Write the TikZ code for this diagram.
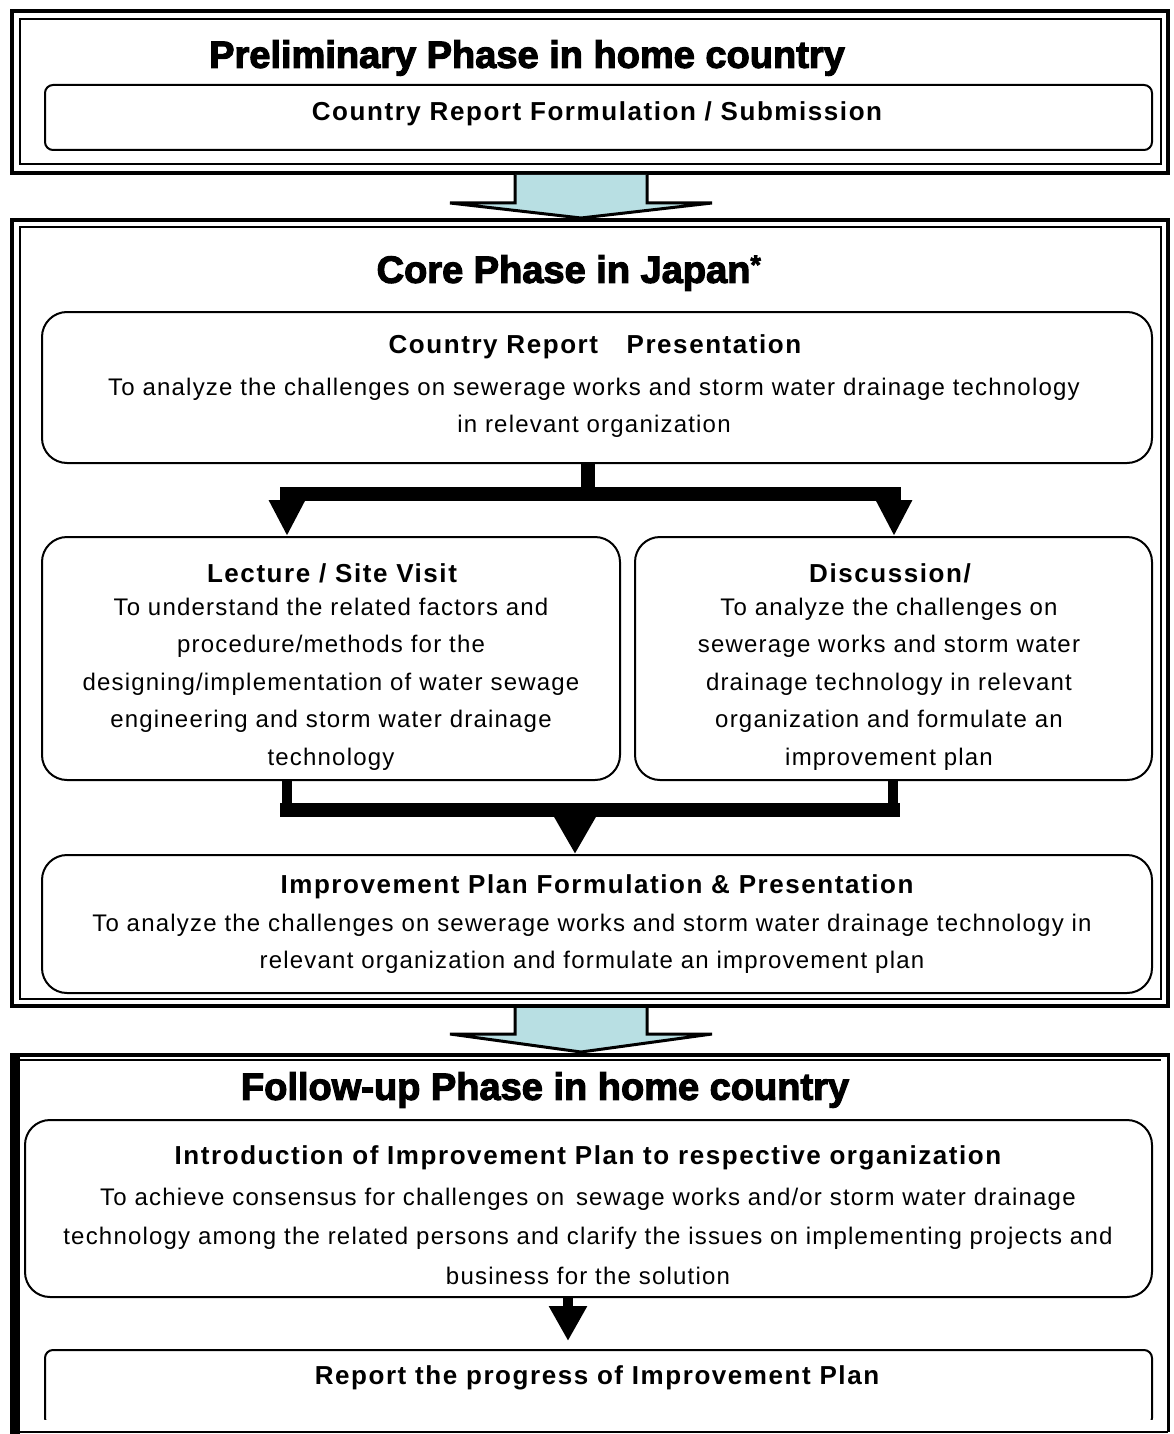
\documentclass[tikz,border=0pt]{standalone}
\usepackage{fontspec}
\setmainfont{Liberation Sans}
\newfontfamily\bodyfont[LetterSpace=5]{Liberation Sans}
\newfontfamily\headfont[LetterSpace=6]{Liberation Sans}
\newfontfamily\titlefont[FakeBold=3]{Liberation Sans}
\usetikzlibrary{arrows.meta}
\definecolor{arrowblue}{RGB}{184,223,227}
\tikzset{
  frameout/.style={draw=black, line width=4pt},
  framein/.style={draw=black, line width=2pt},
  bigbox/.style={draw=black, line width=2pt, rounded corners=25pt, inner sep=0pt},
  smallbox/.style={draw=black, line width=2pt, rounded corners=8pt, inner sep=0pt},
  titletext/.style={font=\titlefont\bfseries\fontsize{38}{44}\selectfont, inner sep=0pt},
  headtext/.style={font=\headfont\bfseries\fontsize{26}{30}\selectfont, inner sep=0pt},
  bodytext/.style={font=\bodyfont\fontsize{24}{37.5}\selectfont, align=center, inner sep=0pt},
  flowthick/.style={draw=black, line width=14pt},
  flowthin/.style={draw=black, line width=10pt},
  blockfill/.style={fill=arrowblue},
  blockline/.style={draw=black, line width=3pt, line join=miter},
}
\begin{document}
\begin{tikzpicture}[x=1pt,y=-1pt]
\useasboundingbox (0,0) rectangle (1173,1434);
\fill[white] (0,0) rectangle (1173,1434);

% ---------- Preliminary phase frame ----------
\draw[frameout] (12,11) rectangle (1168,173);
\draw[framein] (20,19) rectangle (1161,164);
\node[titletext] (pt) at (527,58) {Preliminary Phase in home country};
\node[smallbox, minimum width=1107pt, minimum height=65pt] (crf) at (598.5,117.5) {};
\node[headtext] (crft) at (597,114) {Country Report Formulation / Submission};

% ---------- block arrow 1 ----------
\fill[blockfill] (515,175) -- (515,203) -- (450,203) -- (581,218) -- (712,203) -- (647,203) -- (647,175) -- cycle;
\draw[blockline] (515,175) -- (515,203) -- (450,203) -- (581,218) -- (712,203) -- (647,203) -- (647,175);

% ---------- Core phase frame ----------
\draw[frameout] (12,220) rectangle (1168,1006);
\draw[framein] (20,227) rectangle (1161,999);
\node[titletext] (ct) at (569,273) {Core Phase in Japan\textsuperscript{*}};

\node[bigbox, minimum width=1110pt, minimum height=151pt] (cr) at (597,387.5) {};
\node[headtext] (crh) at (595,347) {Country Report\hspace{1.1em}Presentation};
\node[bodytext] (crb) at (594,408) {To analyze the challenges on sewerage works and storm water drainage technology\\in relevant organization};

\node[bigbox, minimum width=578pt, minimum height=243pt] (lec) at (331,658.5) {};
\node[headtext] (lech) at (332,573) {Lecture / Site Visit};
\node[bodytext] (lecb) at (331,684) {To understand the related factors and\\procedure/methods for the\\designing/implementation of water sewage\\engineering and storm water drainage\\technology};

\node[bigbox, minimum width=517pt, minimum height=243pt] (dis) at (893.5,658.5) {};
\node[headtext] (dish) at (890,573) {Discussion/};
\node[bodytext] (disb) at (889,684) {To analyze the challenges on\\sewerage works and storm water\\drainage technology in relevant\\organization and formulate an\\improvement plan};

\node[bigbox, minimum width=1110pt, minimum height=138pt] (imp) at (597,924) {};
\node[headtext] (imph) at (597,887) {Improvement Plan Formulation \& Presentation};
\node[bodytext] (impb) at (592,944) {To analyze the challenges on sewerage works and storm water drainage technology in\\relevant organization and formulate an improvement plan};

% branch connector
\coordinate (bc) at (588,494);
\coordinate (bl) at (287,494);
\coordinate (br) at (894,494);
\draw[flowthick] ([xshift=-9pt]cr.south) -- (bc);
\draw[flowthick, line cap=rect] (bl) -- (br);
\draw[flowthick, -{Triangle[width=34pt,length=36pt]}] (bl) -- (bl |- lec.north);
\draw[flowthick, -{Triangle[width=34pt,length=36pt]}] (br) -- (br |- dis.north);

% merge connector
\coordinate (ml) at (287,810);
\coordinate (mr) at (893,810);
\coordinate (mc) at (575,810);
\draw[flowthin] (ml |- lec.south) -- (ml);
\draw[flowthin] (mr |- dis.south) -- (mr);
\draw[flowthick, line cap=rect] (ml) -- (mr);
\draw[flowthick, -{Triangle[width=40pt,length=38pt]}] (mc) -- (mc |- imp.north);

% ---------- block arrow 2 ----------
\fill[blockfill] (515,1008) -- (515,1034) -- (450,1034) -- (581,1052) -- (712,1034) -- (647,1034) -- (647,1008) -- cycle;
\draw[blockline] (515,1008) -- (515,1034) -- (450,1034) -- (581,1052) -- (712,1034) -- (647,1034) -- (647,1008);

% ---------- Follow-up phase frame ----------
\draw[line width=4pt] (12,1055) -- (1168,1055);
\draw[line width=2pt] (20,1060) -- (1161,1060);
\draw[line width=10pt] (15,1053) -- (15,1434);
\draw[line width=3pt] (1168,1053) -- (1168,1432);
\draw[line width=2pt] (10,1432) -- (1168,1432);
\node[titletext] (ft) at (545,1090) {Follow-up Phase in home country};

\node[bigbox, minimum width=1127pt, minimum height=177pt] (intro) at (588.5,1208.5) {};
\node[headtext] (introh) at (588,1158) {Introduction of Improvement Plan to respective organization};
\node[bodytext, font=\bodyfont\fontsize{24}{39.5}\selectfont] (introb) at (588,1236) {To achieve consensus for challenges on\, sewage works and/or storm water drainage\\technology among the related persons and clarify the issues on implementing projects and\\business for the solution};

\begin{scope}
\clip (0,0) rectangle (1173,1419);
\node[smallbox, minimum width=1107pt, minimum height=76pt] (rep) at (598.5,1388) {};
\end{scope}
\node[headtext] (reph) at (597,1378) {Report the progress of Improvement Plan};

\draw[flowthin, -{Triangle[width=36pt,length=35pt]}, shorten >=8pt] (intro.south -| 568,0) -- (rep.north -| 568,0);
\end{tikzpicture}
\end{document}
